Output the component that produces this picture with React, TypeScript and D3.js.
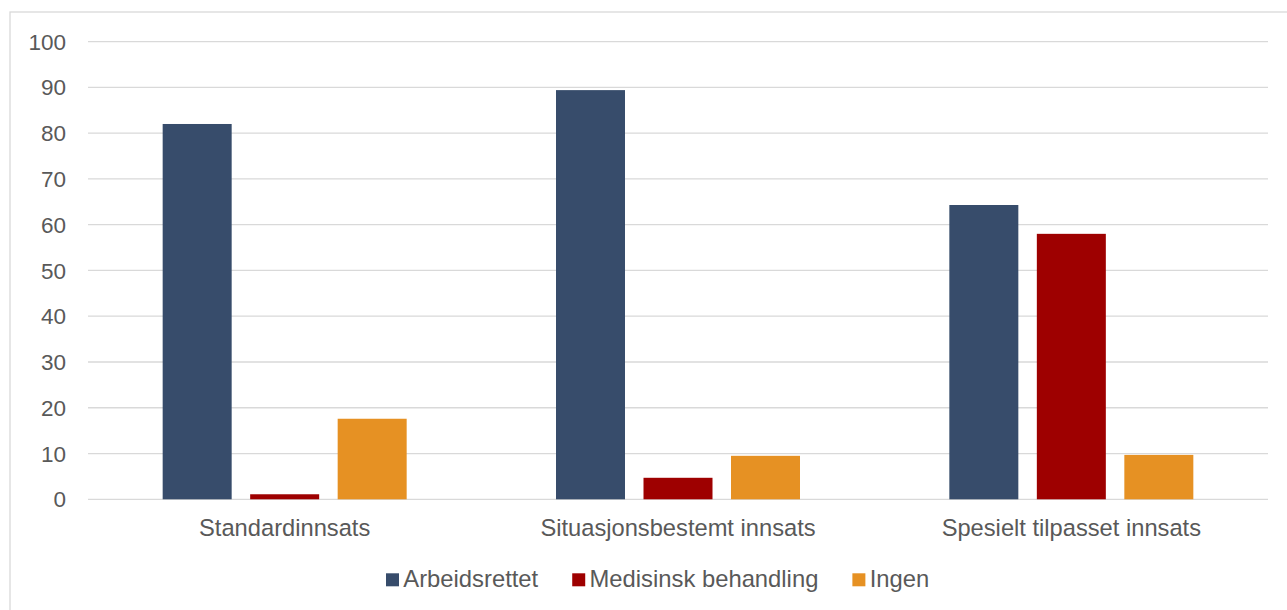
import React, { useEffect, useRef } from "react";
import * as d3 from "d3";

const categories = ["Standardinnsats", "Situasjonsbestemt innsats", "Spesielt tilpasset innsats"];
const seriesNames = ["Arbeidsrettet", "Medisinsk behandling", "Ingen"];
const arbeidsrettet = [82.0, 89.4, 64.3];
const medisinsk = [1.1, 4.7, 58.0];
const ingen = [17.6, 9.5, 9.7];
const yTicks = [0, 10, 20, 30, 40, 50, 60, 70, 80, 90, 100];
const colors = ["#374C6B", "#9E0000", "#E69123"];

export default function App() {
  const ref = useRef<SVGSVGElement>(null);
  useEffect(() => {
    const svg = d3.select(ref.current);
    svg.selectAll("*").remove();
    const W = 1287, H = 610;
    const left = 88, right = 1268, top = 41.6, bottom = 499.3;
    const font = "'Liberation Sans', Arial, sans-serif";
    const textColor = "#595959";
    const series = [arbeidsrettet, medisinsk, ingen];

    svg.append("rect").attr("x", 0).attr("y", 0).attr("width", W).attr("height", H).attr("fill", "#fff");
    svg.append("rect").attr("x", 10).attr("y", 12).attr("width", W + 10).attr("height", H + 10)
      .attr("fill", "none").attr("stroke", "#d9d9d9").attr("stroke-width", 1.3);

    const y = d3.scaleLinear().domain([0, 100]).range([bottom, top]);
    const x0 = d3.scaleBand().domain(categories).range([left, right]).paddingInner(0).paddingOuter(0);
    const bw = 69, step = 87.5;

    svg.append("g").selectAll("line").data(yTicks).join("line")
      .attr("x1", left).attr("x2", right)
      .attr("y1", d => y(d)).attr("y2", d => y(d))
      .attr("stroke", "#d9d9d9").attr("stroke-width", 1.3);

    svg.append("g").selectAll("text").data(yTicks).join("text")
      .attr("x", 66).attr("y", d => y(d)).attr("dy", "0.36em")
      .attr("text-anchor", "end").attr("font-family", font).attr("font-size", 22.5)
      .attr("fill", textColor).text(d => String(d));

    series.forEach((vals, si) => {
      svg.append("g").selectAll("rect").data(vals).join("rect")
        .attr("x", (d, i) => x0(categories[i])! + x0.bandwidth() / 2 + (si - 1) * step - bw / 2)
        .attr("width", bw)
        .attr("y", d => y(d))
        .attr("height", d => y(0) - y(d))
        .attr("fill", colors[si]);
    });

    svg.append("g").selectAll("text").data(categories).join("text")
      .attr("x", d => x0(d)! + x0.bandwidth() / 2).attr("y", 536)
      .attr("text-anchor", "middle").attr("font-family", font).attr("font-size", 23.7)
      .attr("fill", textColor).text(d => d);

    const lg = svg.append("g");
    let lx = 386;
    seriesNames.forEach((name, i) => {
      lg.append("rect").attr("x", lx).attr("y", 573.3).attr("width", 13).attr("height", 13).attr("fill", colors[i]);
      const t = lg.append("text").attr("x", lx + 17.3).attr("y", 586.6)
        .attr("font-family", font).attr("font-size", 23.8).attr("fill", textColor).text(name);
      const w = (t.node() as SVGTextElement).getComputedTextLength();
      lx = lx + 17.3 + w + 34;
    });
  }, []);
  return (
    <svg ref={ref} width={1287} height={610}
      style={{ position: "absolute", left: 0, top: 0, display: "block" }} />
  );
}
